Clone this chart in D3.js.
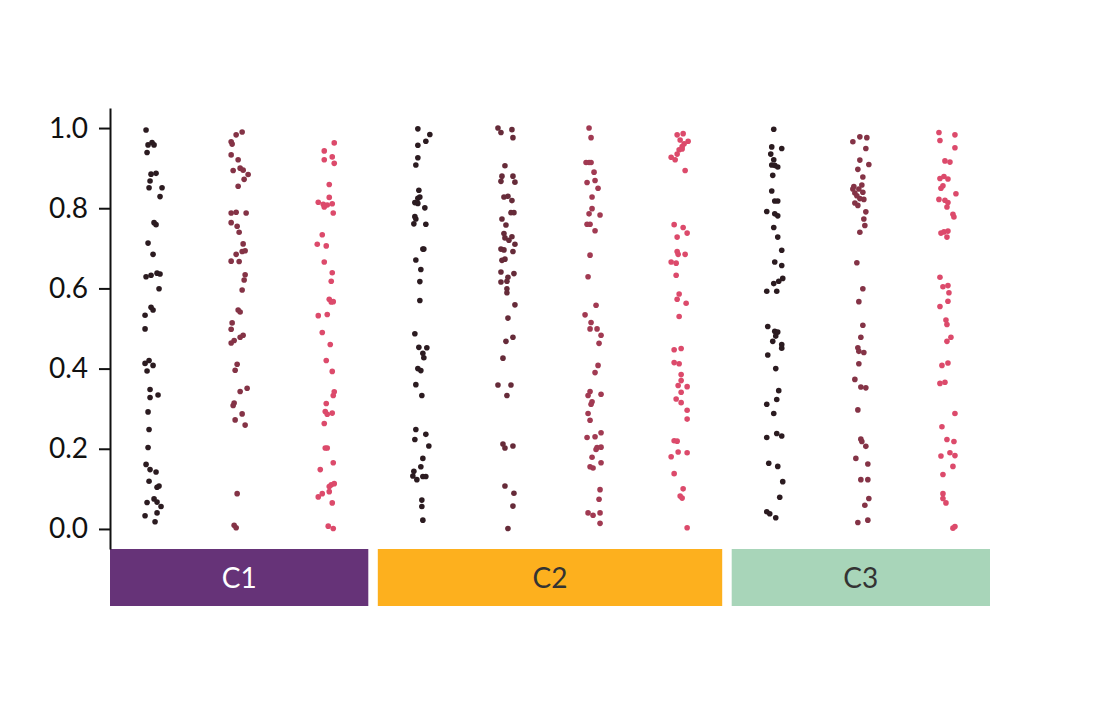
<!DOCTYPE html>
<html>
<head>
<meta charset="utf-8">
<script src="https://cdn.jsdelivr.net/npm/d3@7"></script>
<style>
  body { margin: 0; background: #ffffff; overflow: hidden; }
  svg { display: block; }
  text { font-family: Lato, sans-serif; }
</style>
</head>
<body>
<div id="container"></div>
<script>
/* CONSTANTS AND GLOBALS */
const width = 1100,
      height = 716,
      margin = {top: 108, bottom: 167, left: 110, right: 110},
      innerWidth = width - margin.left - margin.right,
      innerHeight = height - margin.top - margin.bottom,
      facetGap = 9.5,
      stripHeight = 57;

/* DATA : each point is [value, jitter] (jitter, -10..10) */
const facets = ["C1", "C2", "C3"];
const facetFill = ["#663378", "#fdb01e", "#a8d5b9"];
const facetText = ["#ffffff", "#333333", "#333333"];
const yTicks = [0, 0.2, 0.4, 0.6, 0.8, 1.0];

const c1_1 = [[0.995,-7],[0.958,-5],[0.964,-1],[0.958,1],[0.939,-6],[0.885,-2],[0.887,3],[0.868,-3],[0.851,-4],[0.851,9],[0.829,7],[0.764,1],[0.759,3],[0.713,-5],[0.685,0],[0.629,-7],[0.633,-2],[0.638,4],[0.636,7],[0.599,6],[0.553,-2],[0.546,0],[0.533,-8],[0.499,-8],[0.42,-4],[0.413,-8],[0.408,0],[0.394,-6],[0.348,-3],[0.334,5],[0.328,-3],[0.292,-5],[0.248,-4],[0.203,-5],[0.161,-7],[0.148,-3],[0.142,3],[0.119,-4],[0.104,4],[0.107,6],[0.075,1],[0.067,4],[0.056,8],[0.066,-6],[0.04,4],[0.033,-8],[0.018,2]];
const c1_2 = [[0.99,3],[0.983,-3],[0.966,-8],[0.96,-7],[0.933,-8],[0.921,-1],[0.894,-6],[0.9,1],[0.895,4],[0.884,9],[0.872,5],[0.855,-1],[0.788,-8],[0.79,-3],[0.788,7],[0.764,-8],[0.755,-2],[0.74,0],[0.711,4],[0.685,-3],[0.692,3],[0.694,6],[0.668,-8],[0.667,0],[0.634,6],[0.621,5],[0.596,3],[0.546,-1],[0.541,1],[0.514,-7],[0.498,-8],[0.47,-5],[0.464,-8],[0.478,1],[0.483,4],[0.411,-2],[0.396,-4],[0.351,8],[0.343,1],[0.314,-5],[0.308,-6],[0.287,3],[0.272,-4],[0.259,6],[0.088,-2],[0.009,-5],[0.003,-3]];
const c1_3 = [[0.963,9],[0.943,-1],[0.921,-1],[0.928,7],[0.912,9],[0.859,4],[0.827,4],[0.815,-7],[0.81,-2],[0.803,-1],[0.808,2],[0.811,7],[0.788,8],[0.734,-3],[0.71,-8],[0.706,1],[0.666,-1],[0.639,7],[0.618,6],[0.573,4],[0.566,6],[0.567,8],[0.532,-7],[0.535,2],[0.49,-3],[0.46,5],[0.42,1],[0.393,7],[0.342,9],[0.333,8],[0.313,1],[0.293,0],[0.286,2],[0.289,7],[0.263,-1],[0.202,0],[0.202,2],[0.165,8],[0.148,-5],[0.106,4],[0.11,6],[0.113,9],[0.093,4],[0.08,-7],[0.088,-3],[0.065,7],[0.007,3],[0.001,8]];

const c2_1 = [[0.998,-3],[0.984,9],[0.967,5],[0.957,-3],[0.926,-3],[0.908,-5],[0.845,-2],[0.825,-3],[0.828,-1],[0.814,-6],[0.812,-3],[0.801,4],[0.779,-6],[0.773,-5],[0.761,-7],[0.76,5],[0.698,2],[0.698,3],[0.671,-5],[0.647,0],[0.617,-1],[0.57,-1],[0.487,-6],[0.453,-2],[0.452,6],[0.438,2],[0.427,3],[0.4,-3],[0.395,0],[0.36,-5],[0.333,1],[0.248,-5],[0.236,5],[0.223,-6],[0.207,8],[0.176,2],[0.155,0],[0.144,-7],[0.132,-8],[0.123,-4],[0.131,2],[0.131,5],[0.072,1],[0.056,1],[0.022,2]];
const c2_2 = [[1.0,-9],[0.989,-6],[0.996,5],[0.976,6],[0.906,-2],[0.88,-5],[0.88,6],[0.867,-6],[0.865,8],[0.828,-3],[0.83,1],[0.819,5],[0.789,4],[0.789,7],[0.773,-5],[0.758,-1],[0.737,-3],[0.726,-2],[0.72,2],[0.729,5],[0.71,8],[0.698,-6],[0.696,-3],[0.692,6],[0.67,-5],[0.673,-2],[0.641,-6],[0.637,7],[0.628,1],[0.618,0],[0.616,-6],[0.599,0],[0.589,0],[0.559,8],[0.526,1],[0.478,6],[0.468,-1],[0.426,-4],[0.359,-9],[0.359,4],[0.333,0],[0.212,-4],[0.202,-2],[0.207,6],[0.107,-2],[0.089,7],[0.057,6],[0.001,1]];
const c2_3 = [[1.0,-4],[0.976,-2],[0.914,-7],[0.914,-4],[0.914,-2],[0.89,1],[0.864,-6],[0.869,2],[0.85,5],[0.828,-1],[0.799,-1],[0.786,-4],[0.783,7],[0.76,-6],[0.76,-3],[0.744,2],[0.683,-3],[0.629,-5],[0.558,3],[0.534,-8],[0.515,-2],[0.499,-3],[0.499,4],[0.483,8],[0.463,6],[0.408,5],[0.39,2],[0.343,-3],[0.333,-5],[0.336,8],[0.317,-1],[0.311,-2],[0.288,-5],[0.271,-3],[0.228,-6],[0.23,2],[0.24,8],[0.203,4],[0.198,3],[0.204,8],[0.179,-1],[0.165,8],[0.155,-3],[0.152,0],[0.098,7],[0.074,6],[0.04,-5],[0.034,0],[0.04,7],[0.014,7]];
const c2_4 = [[0.983,-2],[0.986,4],[0.97,1],[0.967,9],[0.961,5],[0.954,3],[0.946,0],[0.948,3],[0.935,-2],[0.927,-8],[0.921,-4],[0.894,6],[0.759,-5],[0.752,4],[0.738,8],[0.728,-2],[0.692,-2],[0.685,-1],[0.685,6],[0.666,-8],[0.663,-3],[0.633,-3],[0.586,0],[0.573,-2],[0.563,7],[0.53,0],[0.447,-5],[0.45,2],[0.415,-5],[0.412,0],[0.385,2],[0.37,2],[0.358,-1],[0.355,8],[0.341,2],[0.324,-3],[0.315,2],[0.296,8],[0.274,8],[0.22,-5],[0.219,-2],[0.192,-1],[0.19,8],[0.18,-8],[0.138,-5],[0.1,4],[0.082,1],[0.077,3],[0.003,8]];

const c3_1 = [[0.997,-1],[0.953,-3],[0.949,7],[0.935,-4],[0.921,-1],[0.908,-3],[0.907,0],[0.903,3],[0.882,-2],[0.843,-3],[0.818,0],[0.818,3],[0.792,-8],[0.786,0],[0.781,3],[0.752,-1],[0.728,3],[0.695,7],[0.666,0],[0.657,7],[0.625,8],[0.618,4],[0.612,-1],[0.593,-8],[0.593,2],[0.505,-7],[0.493,0],[0.491,3],[0.481,1],[0.468,-2],[0.46,7],[0.451,7],[0.434,-7],[0.4,1],[0.345,4],[0.323,2],[0.311,-8],[0.288,-1],[0.228,-8],[0.238,2],[0.232,7],[0.164,-6],[0.156,3],[0.118,8],[0.079,5],[0.043,-8],[0.038,-5],[0.028,1]];
const c3_2 = [[0.978,-1],[0.976,6],[0.966,-8],[0.949,5],[0.92,-1],[0.909,8],[0.897,-3],[0.878,2],[0.854,-7],[0.858,1],[0.848,-8],[0.848,-2],[0.838,-6],[0.84,2],[0.831,-4],[0.824,-1],[0.822,3],[0.813,-6],[0.807,-3],[0.791,5],[0.773,3],[0.757,4],[0.74,-1],[0.664,-4],[0.599,2],[0.567,-2],[0.508,2],[0.478,0],[0.452,-3],[0.443,-2],[0.44,3],[0.412,-2],[0.373,-6],[0.354,0],[0.352,5],[0.297,-3],[0.224,0],[0.218,1],[0.206,5],[0.176,-5],[0.162,7],[0.123,0],[0.123,7],[0.076,8],[0.059,4],[0.016,-3],[0.022,7]];
const c3_3 = [[0.989,-8],[0.983,8],[0.969,-7],[0.951,8],[0.918,-2],[0.915,3],[0.874,-7],[0.879,-3],[0.873,1],[0.856,-4],[0.85,-6],[0.836,9],[0.822,-8],[0.82,-2],[0.814,1],[0.803,0],[0.785,6],[0.778,7],[0.738,-6],[0.741,-3],[0.743,1],[0.728,0],[0.628,-7],[0.604,-4],[0.607,1],[0.589,2],[0.568,1],[0.555,-7],[0.521,-1],[0.51,0],[0.478,4],[0.468,0],[0.414,1],[0.408,-5],[0.363,-7],[0.366,-2],[0.288,8],[0.255,-5],[0.223,0],[0.218,7],[0.19,3],[0.182,-6],[0.183,8],[0.156,6],[0.136,-4],[0.088,-4],[0.076,-4],[0.065,-1],[0.002,6],[0.006,8]];

const seriesC1 = [c1_1, c1_2, c1_3];
const seriesC2 = [c2_1, c2_2, c2_3, c2_4];
const seriesC3 = [c3_1, c3_2, c3_3];
const facetSeries = [seriesC1, seriesC2, seriesC3];

// point colours run from dark to pink inside every facet
const darkEnd = "#2b1b20",
      pinkEnd = "#dc4a6b";

/* SCALES */
const yScale = d3.scaleLinear()
  .domain([-0.05, 1.05])
  .range([innerHeight, 0]);

const nSub = d3.sum(facetSeries, s => s.length);
const unitScale = d3.scaleLinear()
  .domain([0, nSub])
  .range([0, innerWidth - facetGap * (facets.length - 1)]);

const colorInterp = d3.interpolateRgb(darkEnd, pinkEnd);

/* ELEMENTS */
const svg = d3.select("#container")
  .append("svg")
    .attr("width", width)
    .attr("height", height);

const g = svg.append("g")
  .attr("transform", `translate(${margin.left},${margin.top})`);

let cum = 0;
facets.forEach((name, i) => {
  const series = facetSeries[i];
  const x0 = unitScale(cum) + i * facetGap,
        x1 = unitScale(cum + series.length) + i * facetGap;
  cum += series.length;

  const xBand = d3.scaleBand()
    .domain(d3.range(series.length))
    .range([x0, x1])
    .padding(0);

  const jitter = d3.scaleLinear()
    .domain([-10, 10])
    .range([-xBand.bandwidth() * 0.116, xBand.bandwidth() * 0.116]);

  const color = k => colorInterp(series.length === 1 ? 0 : k / (series.length - 1));

  // facet strip
  g.append("rect")
    .attr("x", x0)
    .attr("y", innerHeight)
    .attr("width", x1 - x0)
    .attr("height", stripHeight)
    .attr("fill", facetFill[i]);

  g.append("text")
    .attr("x", (x0 + x1) / 2)
    .attr("y", innerHeight + stripHeight / 2)
    .attr("dy", "0.36em")
    .attr("text-anchor", "middle")
    .attr("font-size", "28px")
    .attr("fill", facetText[i])
    .text(name);

  // strips of points
  series.forEach((pts, k) => {
    g.append("g")
      .selectAll("circle")
      .data(pts)
      .join("circle")
        .attr("cx", d => xBand(k) + xBand.bandwidth() / 2 + jitter(d[1]))
        .attr("cy", d => yScale(d[0]))
        .attr("r", 2.8)
        .attr("fill", color(k));
  });
});

/* AXIS */
const yAxis = g.append("g")
  .call(d3.axisLeft(yScale)
    .tickValues(yTicks)
    .tickFormat(d3.format(".1f"))
    .tickSize(11)
    .tickSizeOuter(0)
    .tickPadding(11));

yAxis.select(".domain").attr("stroke", "#111").attr("stroke-width", 2);
yAxis.selectAll(".tick line").attr("stroke", "#111").attr("stroke-width", 2);
yAxis.selectAll(".tick text")
  .attr("font-family", "Lato, sans-serif")
  .attr("font-size", "28px")
  .attr("fill", "#111");
</script>
</body>
</html>
